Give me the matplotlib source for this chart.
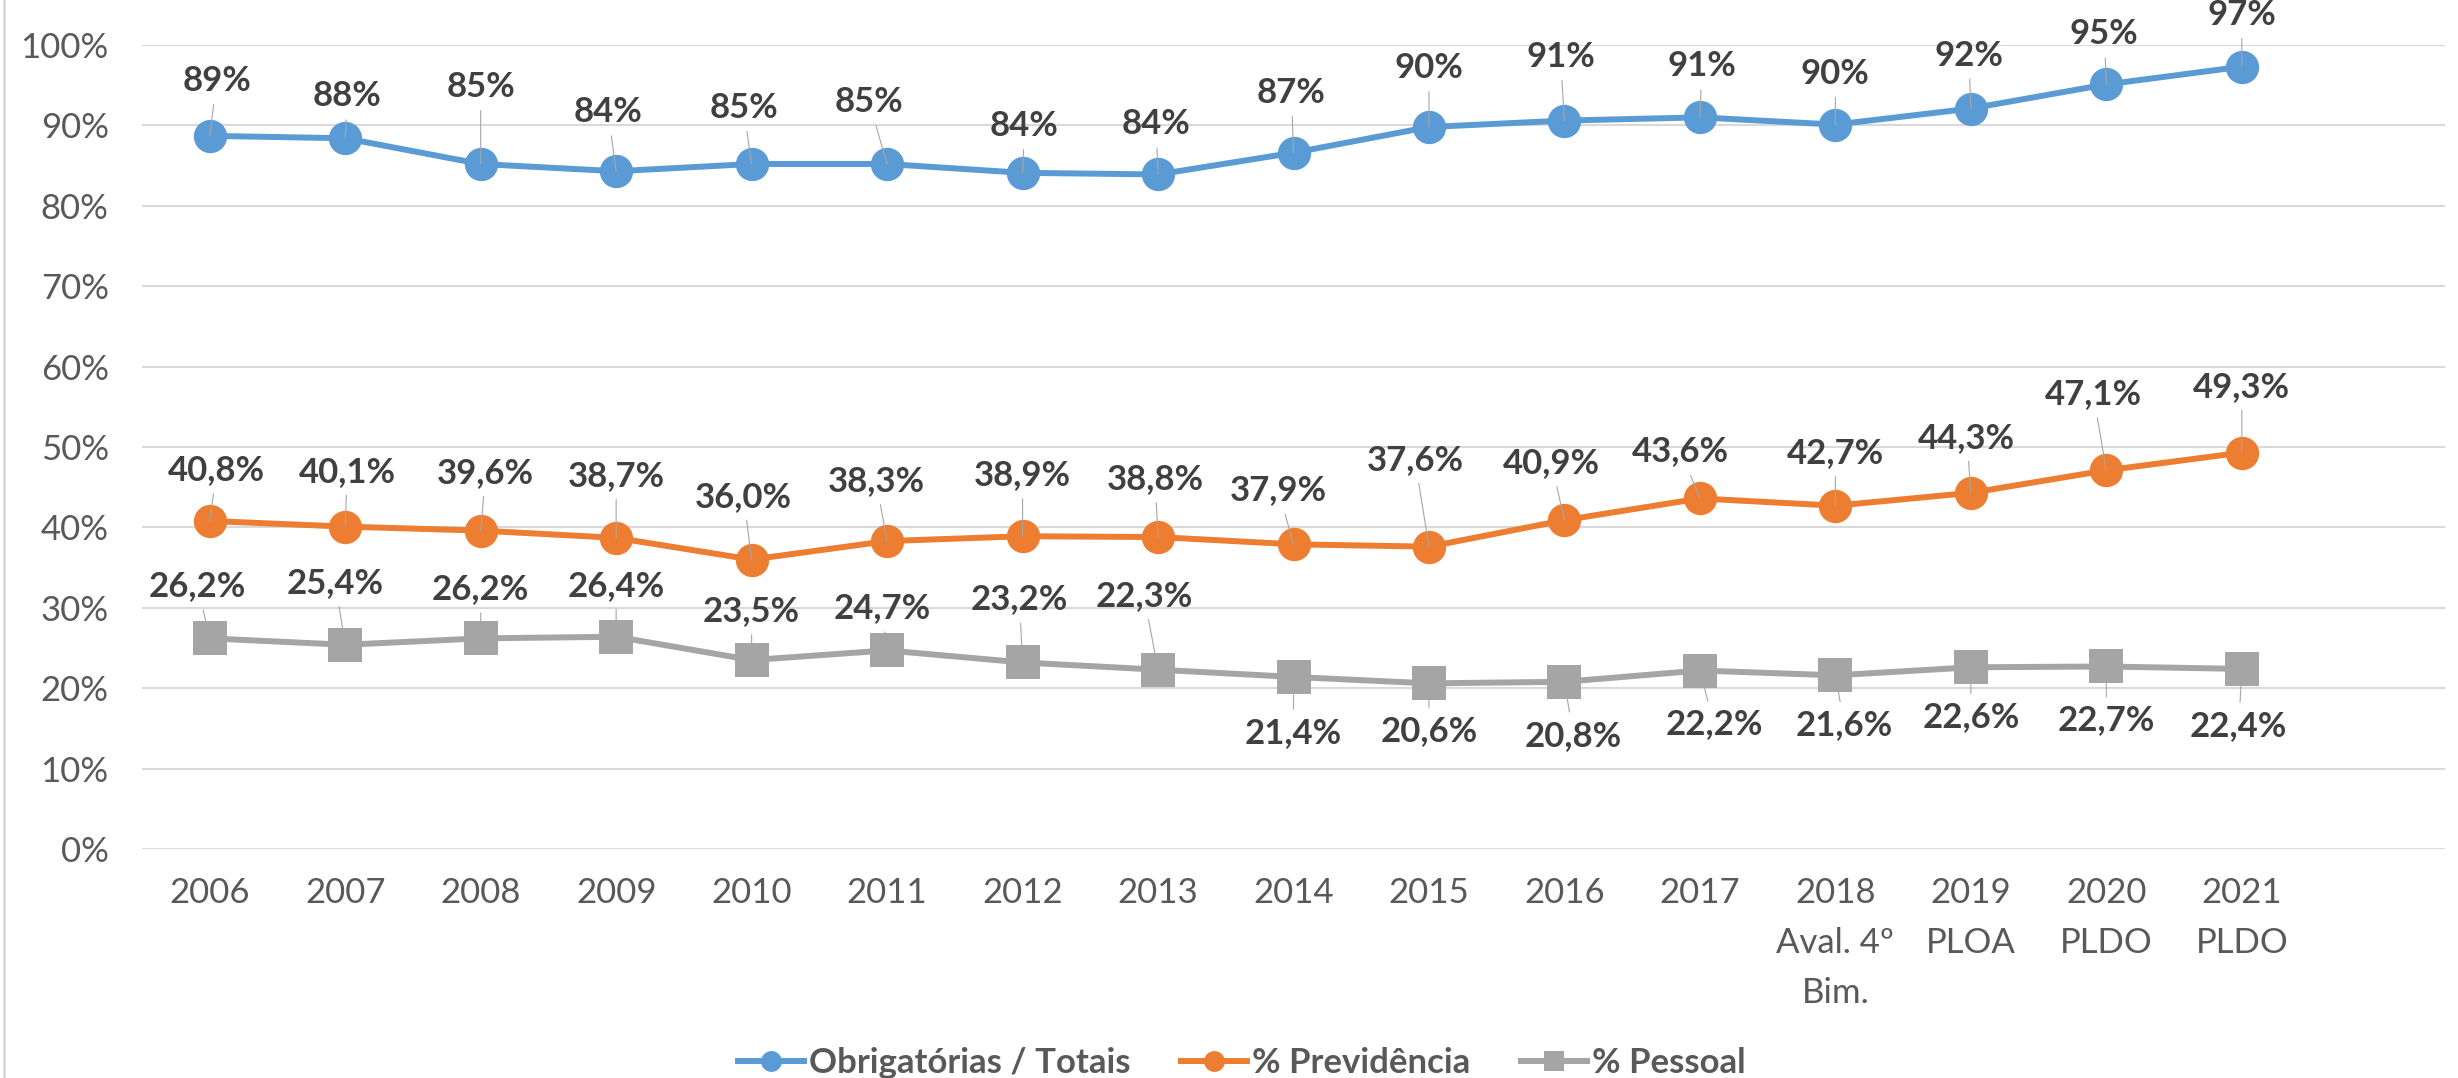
import matplotlib
matplotlib.use('Agg')
import matplotlib.pyplot as plt
from matplotlib.lines import Line2D

# ---- data ----
categories = ['2006', '2007', '2008', '2009', '2010', '2011', '2012', '2013',
              '2014', '2015', '2016', '2017', '2018\nAval. 4º\nBim.',
              '2019\nPLOA', '2020\nPLDO', '2021\nPLDO']
obrigatorias = [0.887, 0.884, 0.852, 0.843, 0.852, 0.852, 0.841, 0.839,
                0.866, 0.898, 0.906, 0.910, 0.901, 0.921, 0.951, 0.973]
previdencia = [0.408, 0.401, 0.396, 0.387, 0.360, 0.383, 0.389, 0.388,
               0.379, 0.376, 0.409, 0.436, 0.427, 0.443, 0.471, 0.493]
pessoal = [0.262, 0.254, 0.262, 0.264, 0.235, 0.247, 0.232, 0.223,
           0.214, 0.206, 0.208, 0.222, 0.216, 0.226, 0.227, 0.224]
series_names = ['Obrigatórias / Totais', '% Previdência', '% Pessoal']
y_ticks = [0.0, 0.1, 0.2, 0.3, 0.4, 0.5, 0.6, 0.7, 0.8, 0.9, 1.0]
y_tick_labels = ['0%', '10%', '20%', '30%', '40%', '50%', '60%', '70%',
                 '80%', '90%', '100%']

# label offsets (pixels, image coordinates: +dy = downward)
off_obrig = [(7, -58), (2, -45), (0, -80), (-8, -62), (-8, -59), (-18, -65),
             (2, -50), (-2, -53), (-2, -63), (0, -62), (-4, -67), (2, -54),
             (0, -54), (-2, -56), (-2, -53), (0, -55)]
off_prev = [(7, -54), (2, -58), (5, -61), (0, -65), (-8, -66), (-11, -63),
            (0, -64), (-3, -61), (-15, -57), (-14, -90), (-13, -60),
            (-19, -50), (0, -56), (-4, -58), (-13, -79), (0, -69)]
off_pess = [(-12, -55), (-10, -65), (0, -52), (0, -54), (0, -52), (-5, -45),
            (-3, -66), (-14, -77), (0, 53), (0, 45), (9, 51), (14, 51),
            (9, 47), (0, 47), (0, 51), (-3, 54)]

colors = ['#5B9BD5', '#ED7D31', '#A5A5A5']
markers = ['o', 'o', 's']

plt.rcParams['font.family'] = ['Lato', 'DejaVu Sans']

W, H = 2458, 1078
fig = plt.figure(figsize=(W / 100, H / 100), dpi=100)
ax = fig.add_axes([142 / W, 1 - 849 / H, (2445 - 142) / W, (849 - 45) / H])

x = list(range(len(categories)))
for vals, c, m in zip([obrigatorias, previdencia, pessoal], colors, markers):
    ax.plot(x, vals, color=c, lw=4.3, marker=m, markersize=24,
            markeredgewidth=0, solid_joinstyle='round', solid_capstyle='round',
            zorder=2, clip_on=False)

ax.set_xlim(-0.5, 16.5)
ax.set_ylim(0, 1)
ax.set_yticks(y_ticks)
ax.set_yticklabels(y_tick_labels)
ax.set_xticks(x)
ax.set_xticklabels(categories, linespacing=1.7)
ax.tick_params(axis='both', length=0, labelsize=25, colors='#595959')
ax.tick_params(axis='y', pad=24)
ax.tick_params(axis='x', pad=20)
ax.grid(axis='y', color='#D9D9D9', lw=1.5)
ax.set_axisbelow(True)
for sp in ax.spines.values():
    sp.set_visible(False)


def add_labels(vals, offs, fmt):
    for i, (v, (dx, dy)) in enumerate(zip(vals, offs)):
        ax.annotate(fmt(v), xy=(i, v), xytext=(dx, -dy - 3),
                    textcoords='offset pixels', ha='center', va='center',
                    fontsize=25, fontweight='bold', color='#404040',
                    bbox=dict(boxstyle='square,pad=0.22', fc='none', ec='none'),
                    arrowprops=dict(arrowstyle='-', color='#A6A6A6', lw=0.8,
                                    shrinkA=0, shrinkB=0),
                    zorder=5, annotation_clip=False)


add_labels(obrigatorias, off_obrig, lambda v: f"{v * 100:.0f}%")
add_labels(previdencia, off_prev, lambda v: f"{v * 100:.1f}".replace('.', ',') + '%')
add_labels(pessoal, off_pess, lambda v: f"{v * 100:.1f}".replace('.', ',') + '%')

handles = [Line2D([], [], color=c, lw=4.3, marker=m, markersize=15,
                  markeredgewidth=0) for c, m in zip(colors, markers)]
fig.legend(handles, series_names, loc='center',
           bbox_to_anchor=(1242 / W, 1 - 1063 / H), ncol=3, frameon=False,
           handlelength=1.9, handletextpad=0.15, columnspacing=1.45,
           prop={'size': 25, 'weight': 'bold'}, labelcolor='#595959')

fig.add_artist(Line2D([4 / W, 4 / W], [0, 1], transform=fig.transFigure,
                      color='#D9D9D9', lw=2))

fig.savefig('out.png', dpi=100)
